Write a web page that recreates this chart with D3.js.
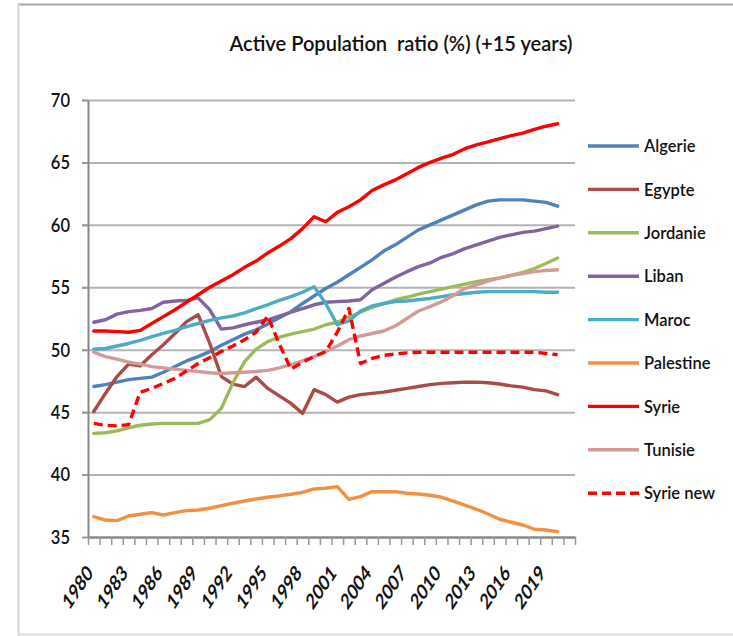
<!DOCTYPE html>
<html><head><meta charset="utf-8">
<script src="https://cdn.jsdelivr.net/npm/d3@7"></script>
<style>
body{margin:0;background:#fff}
svg{display:block}
text{font-family:Lato,"Open Sans",sans-serif;fill:#111}
</style>
</head><body>
<svg id="chart" width="733" height="636"></svg>
<script>
const categories = [1980,1981,1982,1983,1984,1985,1986,1987,1988,1989,1990,1991,1992,1993,1994,1995,1996,1997,1998,1999,2000,2001,2002,2003,2004,2005,2006,2007,2008,2009,2010,2011,2012,2013,2014,2015,2016,2017,2018,2019,2020,2021];
const tickLabels = [1980,1983,1986,1989,1992,1995,1998,2001,2004,2007,2010,2013,2016,2019];
const yTicks = [35,40,45,50,55,60,65,70];
const title = "Active Population\u00a0 ratio (%) (+15 years)";
const seriesNames = ["Algerie","Egypte","Jordanie","Liban","Maroc","Palestine","Syrie","Tunisie","Syrie new"];

const algerie = [47.05,47.2,47.4,47.6,47.7,47.8,48.2,48.65,49.1,49.45,49.85,50.35,50.8,51.25,51.6,52.05,52.55,53.05,53.7,54.3,54.9,55.4,56.0,56.6,57.2,57.9,58.4,59.0,59.6,60.0,60.4,60.8,61.2,61.6,61.9,62.0,62.0,62.0,61.9,61.8,61.5];
const egypte = [45.05,46.5,47.85,48.85,48.7,49.6,50.4,51.3,52.25,52.8,50.5,47.85,47.25,47.05,47.8,46.9,46.3,45.7,44.9,46.8,46.4,45.8,46.2,46.4,46.5,46.6,46.75,46.9,47.05,47.2,47.3,47.35,47.4,47.4,47.35,47.25,47.1,47.0,46.8,46.7,46.4];
const jordanie = [43.3,43.35,43.5,43.75,43.95,44.05,44.1,44.1,44.1,44.1,44.4,45.3,47.35,49.05,50.05,50.65,51.0,51.25,51.45,51.65,52.0,52.2,52.6,53.0,53.4,53.7,54.0,54.2,54.45,54.65,54.85,55.05,55.25,55.45,55.6,55.75,55.95,56.2,56.5,56.9,57.35];
const liban = [52.2,52.4,52.85,53.05,53.15,53.3,53.8,53.9,53.95,54.15,53.2,51.65,51.75,52.0,52.2,52.4,52.7,53.0,53.3,53.6,53.8,53.85,53.9,54.0,54.8,55.3,55.8,56.25,56.65,56.95,57.4,57.7,58.1,58.4,58.7,59.0,59.2,59.4,59.5,59.7,59.9];
const maroc = [50.05,50.1,50.3,50.5,50.75,51.05,51.3,51.55,51.85,52.1,52.35,52.55,52.7,52.95,53.3,53.6,53.95,54.25,54.6,55.05,53.7,52.0,52.3,53.1,53.5,53.7,53.85,53.9,54.0,54.1,54.25,54.4,54.5,54.6,54.65,54.65,54.65,54.65,54.65,54.6,54.6];
const palestine = [36.63,36.36,36.31,36.68,36.82,36.95,36.76,36.95,37.11,37.16,37.3,37.51,37.7,37.88,38.04,38.18,38.29,38.42,38.58,38.85,38.9,39.03,38.02,38.23,38.63,38.63,38.63,38.5,38.44,38.34,38.18,37.88,37.56,37.22,36.84,36.42,36.18,35.96,35.62,35.56,35.43];
const syrie = [51.5,51.5,51.45,51.4,51.55,52.1,52.65,53.2,53.8,54.4,55.0,55.5,56.0,56.6,57.1,57.75,58.3,58.9,59.7,60.65,60.25,61.0,61.45,62.0,62.75,63.2,63.6,64.1,64.6,65.0,65.35,65.65,66.1,66.4,66.65,66.9,67.15,67.35,67.65,67.9,68.1];
const tunisie = [49.8,49.45,49.25,49.0,48.85,48.65,48.55,48.45,48.35,48.25,48.15,48.1,48.15,48.2,48.25,48.35,48.55,48.8,49.1,49.45,49.85,50.3,50.8,51.1,51.3,51.5,51.9,52.5,53.1,53.45,53.85,54.35,54.9,55.2,55.5,55.75,55.95,56.1,56.25,56.35,56.4];
const syrieNew = [44.1,43.95,43.9,44.0,46.6,46.9,47.3,47.7,48.3,48.9,49.35,49.85,50.3,50.8,51.4,52.7,50.45,48.45,49.0,49.45,49.85,51.4,53.3,48.9,49.3,49.55,49.65,49.75,49.8,49.8,49.8,49.8,49.8,49.8,49.8,49.8,49.8,49.8,49.8,49.7,49.6];

const seriesValues = [algerie,egypte,jordanie,liban,maroc,palestine,syrie,tunisie,syrieNew];
const seriesColors = ["#4F81BD","#AA4B47","#9BBB59","#8064A2","#4BACC6","#F09040","#FF0000","#D49A98","#FF0000"];
const seriesDash = [null,null,null,null,null,null,null,null,"9,5"];

const svg = d3.select("#chart");
svg.append("rect").attr("width",733).attr("height",636).attr("fill","#fff");

// outer frame (cropped chart border)
svg.append("line").attr("x1",18).attr("x2",733).attr("y1",4.5).attr("y2",4.5).attr("stroke","#a8a8a8").attr("stroke-width",2);
svg.append("line").attr("x1",18.5).attr("x2",18.5).attr("y1",4).attr("y2",636).attr("stroke","#d6d6d6").attr("stroke-width",2);
svg.append("line").attr("x1",18).attr("x2",733).attr("y1",634.5).attr("y2",634.5).attr("stroke","#dcdcdc").attr("stroke-width",2);

const pLeft = 88, pRight = 575, pTop = 100, pBottom = 537;
const x = d3.scaleBand().domain(categories).range([pLeft,pRight]).padding(0);
const xb = d3.scaleLinear().domain([0,categories.length]).range([pLeft,pRight]);
const y = d3.scaleLinear().domain([35,70]).range([pBottom,pTop]);
const cx = d => x(d) + x.bandwidth()/2;

// title
svg.append("text").attr("x",401).attr("y",0)
  .attr("transform","translate(0,51) scale(1,1.2)")
  .attr("text-anchor","middle").attr("font-size",17.5).attr("font-weight",600)
  .attr("textLength",343).attr("lengthAdjust","spacingAndGlyphs")
  .style("white-space","pre")
  .text(title);

// gridlines
const grid = svg.append("g").attr("transform",`translate(${pLeft},0)`)
  .call(d3.axisLeft(y).tickValues(yTicks.filter(v=>v>35)).tickSize(-(pRight-pLeft)).tickFormat(""));
grid.select(".domain").remove();
grid.selectAll(".tick line").attr("stroke","#b4b4b4").attr("stroke-width",2).attr("x1",-6);

// y axis
const ya = svg.append("g").attr("transform",`translate(${pLeft},0)`)
  .call(d3.axisLeft(y).tickValues(yTicks).tickSize(6).tickPadding(12).tickSizeOuter(0));
ya.select(".domain").attr("stroke","#888").attr("stroke-width",2);
ya.selectAll(".tick line").attr("stroke","#999").attr("stroke-width",2);
ya.selectAll(".tick text").attr("font-size",16.5).attr("font-family","Lato").attr("font-weight",600).attr("fill","#111")
  .attr("transform","scale(1,1.2)");

// x axis (tick marks at category boundaries)
const xa = svg.append("g").attr("transform",`translate(0,${pBottom})`)
  .call(d3.axisBottom(xb).tickValues(d3.range(0,categories.length+1)).tickSize(8).tickFormat("").tickSizeOuter(0));
xa.select(".domain").attr("stroke","#888").attr("stroke-width",2.5);
xa.selectAll(".tick line").attr("stroke","#999").attr("stroke-width",1.5);

// x labels
svg.append("g").selectAll("text").data(tickLabels).join("text")
  .attr("transform",d=>`translate(${cx(d)},574) scale(1,1.4) rotate(-47)`)
  .attr("text-anchor","end").attr("font-size",15.5).attr("font-weight","bold")
  .text(d=>d);

// series
const line = d3.line().x((v,i)=>cx(categories[i])).y(v=>y(v));
const sg = svg.append("g");
seriesValues.forEach((vals,k)=>{
  sg.append("path").datum(vals).attr("d",line)
    .attr("fill","none").attr("stroke",seriesColors[k]).attr("stroke-width",3.4)
    .attr("stroke-linejoin","round").attr("stroke-linecap",seriesDash[k]?"butt":"round")
    .attr("stroke-dasharray",seriesDash[k]);
});

// legend
const lg = svg.append("g").selectAll("g").data(seriesNames).join("g")
  .attr("transform",(d,i)=>`translate(588,${146+i*43.4})`);
lg.append("line").attr("x1",0).attr("x2",51).attr("y1",0).attr("y2",0)
  .attr("stroke",(d,i)=>seriesColors[i]).attr("stroke-width",3.4)
  .attr("stroke-dasharray",(d,i)=>seriesDash[i]);
lg.append("text").attr("x",56).attr("y",0).attr("dy","0.36em")
  .attr("font-size",16.5).attr("font-weight",600).attr("transform","scale(1,1.05)")
  .text(d=>d);
</script>
</body></html>
